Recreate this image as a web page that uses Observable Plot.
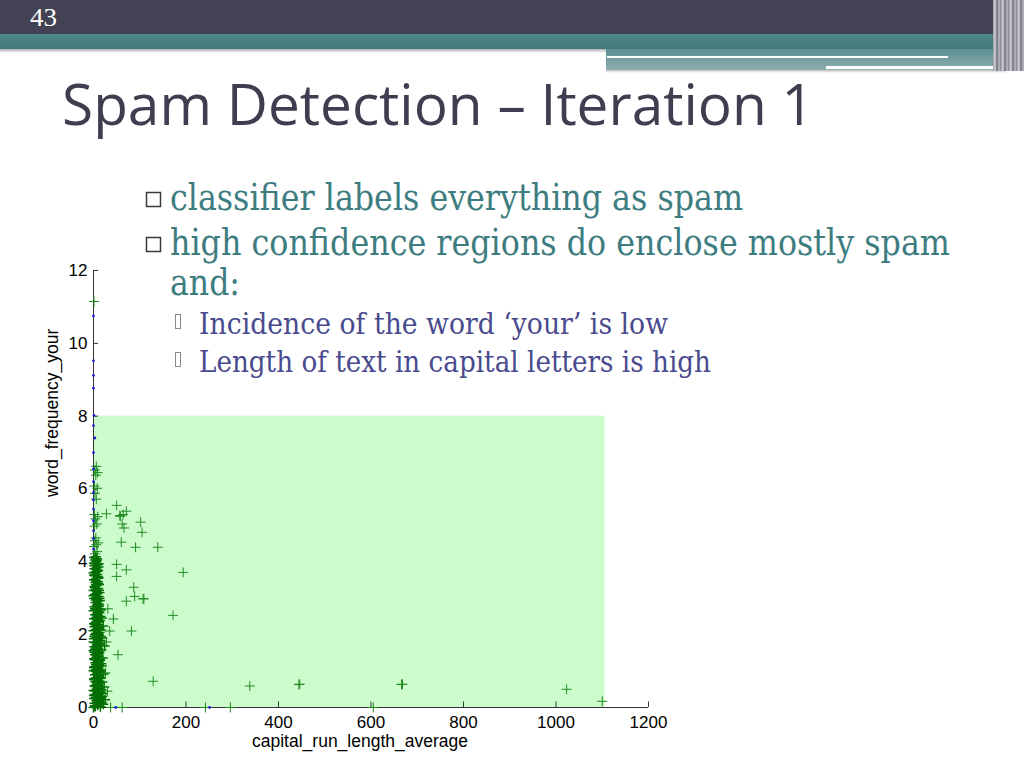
<!DOCTYPE html>
<html><head><meta charset="utf-8">
<script src="https://cdn.jsdelivr.net/npm/d3@7"></script>
<script src="https://cdn.jsdelivr.net/npm/@observablehq/plot@0.6"></script>
<style>
html,body{margin:0;padding:0;background:#fff;}
#slide{position:relative;width:1024px;height:768px;overflow:hidden;background:#fff;}
.abs{position:absolute;}
</style></head><body>
<div id="slide">
  <div class="abs" style="left:0;top:0;width:1024px;height:34px;background:#434254"></div>
  <div class="abs" style="left:0;top:34px;width:1024px;height:15px;background:linear-gradient(#4d8789,#44797b)"></div>
  <div class="abs" style="left:0;top:49px;width:606px;height:4px;background:linear-gradient(rgba(80,80,80,0.45),rgba(255,255,255,0))"></div>
  <div class="abs" style="left:606px;top:49px;width:394px;height:21px;background:linear-gradient(#5a8f91,#8eaeb0)"></div>
  <div class="abs" style="left:606px;top:70px;width:400px;height:3px;background:linear-gradient(rgba(80,80,80,0.35),rgba(255,255,255,0))"></div>
  <div class="abs" style="left:607px;top:56px;width:341px;height:2px;background:#fff"></div>
  <div class="abs" style="left:826px;top:66px;width:180px;height:3px;background:#fff"></div>
  <div class="abs" style="left:993px;top:0;width:31px;height:71px;background:repeating-linear-gradient(90deg,#9a9aa4 0px,#d4d4d8 2px,#6e6e7c 4px,#bcbcc4 6px,#85858f 8px)"></div>
  <div id="chart" class="abs" style="left:0;top:250px"></div>
  <svg class="abs" style="left:0;top:0;pointer-events:none" width="1024" height="768">
    <text x="30" y="26" font-family="'Liberation Serif', serif" font-size="26" fill="#ffffff" textLength="27" lengthAdjust="spacingAndGlyphs">43</text>
    <text x="62" y="125" font-family="'Open Sans', sans-serif" font-size="56" fill="#3f3e50" textLength="752" lengthAdjust="spacingAndGlyphs">Spam Detection – Iteration 1</text>
    <rect x="146.5" y="192.5" width="14" height="14" fill="none" stroke="#3a3a3a" stroke-width="1.5"></rect>
    <rect x="146.5" y="237.5" width="14" height="14" fill="none" stroke="#3a3a3a" stroke-width="1.5"></rect>
    <g font-family="'DejaVu Serif', serif" font-size="32" fill="#3e7d7f">
      <g transform="translate(170,210) scale(1,1.15)"><text x="0" y="0" textLength="573" lengthAdjust="spacingAndGlyphs">classifier labels everything as spam</text></g>
      <g transform="translate(170,255) scale(1,1.15)"><text x="0" y="0" textLength="780" lengthAdjust="spacingAndGlyphs">high confidence regions do enclose mostly spam</text></g>
      <g transform="translate(170,295) scale(1,1.15)"><text x="0" y="0" textLength="70" lengthAdjust="spacingAndGlyphs">and:</text></g>
    </g>
    <rect x="175.5" y="314.5" width="5" height="14" fill="none" stroke="#8a8a8a" stroke-width="1"></rect>
    <rect x="175.5" y="352.5" width="5" height="14" fill="none" stroke="#8a8a8a" stroke-width="1"></rect>
    <text x="199" y="334" font-family="'DejaVu Serif', serif" font-size="29" fill="#4a4a8e" textLength="469" lengthAdjust="spacingAndGlyphs">Incidence of the word ‘your’ is low</text>
    <text x="199" y="372" font-family="'DejaVu Serif', serif" font-size="29" fill="#4a4a8e" textLength="512" lengthAdjust="spacingAndGlyphs">Length of text in capital letters is high</text>
  </svg>
</div>
<script>
const xTicks = [0, 200, 400, 600, 800, 1000, 1200];
const yTicks = [0, 2, 4, 6, 8, 10, 12];
const xLabel = "capital_run_length_average";
const yLabel = "word_frequency_your";
const regionX = [0, 1106];
const regionY = [0, 8];

// spam (green +), dense cluster near x = 0
const spamCore = [
[0,0.00],[4,0.03],[9,0.06],[15,0.02],[21,0.09],[2,0.12],[7,0.15],[12,0.18],[18,0.14],[25,0.21],
[1,0.25],[5,0.28],[10,0.31],[16,0.27],[3,0.36],[8,0.39],[13,0.42],[20,0.38],[0,0.47],[6,0.5],
[11,0.53],[17,0.49],[23,0.56],[2,0.6],[7,0.63],[14,0.66],[4,0.71],[9,0.74],[19,0.7],[1,0.79],
[6,0.82],[12,0.85],[16,0.8],[3,0.9],[8,0.93],[13,0.96],[22,0.92],[0,1.01],[5,1.04],[10,1.07],
[15,1.03],[2,1.12],[7,1.15],[12,1.18],[18,1.14],[4,1.23],[9,1.26],[14,1.29],[1,1.34],[6,1.37],
[11,1.4],[20,1.36],[3,1.45],[8,1.48],[13,1.51],[0,1.56],[5,1.59],[10,1.62],[17,1.58],[2,1.67],
[7,1.7],[12,1.73],[24,1.69],[4,1.78],[9,1.81],[15,1.84],[1,1.89],[6,1.92],[11,1.95],[19,1.91],
[3,2.0],[8,2.03],[13,2.06],[0,2.11],[5,2.14],[10,2.17],[16,2.13],[2,2.22],[7,2.25],[12,2.28],
[21,2.24],[4,2.33],[9,2.36],[14,2.39],[1,2.44],[6,2.47],[11,2.5],[18,2.46],[3,2.55],[8,2.58],
[13,2.61],[0,2.66],[5,2.69],[10,2.72],[16,2.68],[2,2.77],[7,2.8],[12,2.83],[4,2.88],[9,2.91],
[14,2.94],[1,2.99],[6,3.02],[11,3.05],[3,3.1],[8,3.13],[13,3.16],[0,3.21],[5,3.24],[10,3.27],
[2,3.32],[7,3.35],[12,3.38],[4,3.43],[9,3.46],[1,3.51],[6,3.54],[11,3.57],[3,3.62],[8,3.65],
[0,3.7],[5,3.73],[10,3.76],[2,3.81],[7,3.84],[4,3.89],[9,3.92],[1,3.97],[6,4.0],[3,4.05],[8,4.08]
];
const spamCore2 = [
[3,0.05],[11,0.1],[6,0.2],[14,0.25],[1,0.33],[9,0.36],[17,0.4],[4,0.45],[12,0.58],[7,0.68],
[2,0.76],[10,0.88],[15,0.98],[5,0.99],[1,1.09],[9,1.2],[14,1.32],[3,1.31],[7,1.42],[11,1.54],
[2,1.52],[6,1.64],[14,1.76],[0,1.8],[9,1.98],[5,2.03],[13,2.19],[1,2.3],[7,2.41],[11,2.63],
[3,2.72],[9,2.85],[5,2.95],[13,3.0],[0,3.07],[7,3.19],[10,3.41],[3,3.29],[5,3.48],[9,3.6],
[1,3.64],[6,3.79],[11,3.86],[3,3.95],[7,4.04],[1,4.12],[5,4.14],[8,0.12],[4,0.58],[12,1.12],
[6,1.5],[10,1.86],[4,2.27],[8,2.52],[12,2.78],[6,3.12],[10,3.55],[4,3.7],[2,1.95],[15,2.5],
[7,0.35],[13,0.72],[5,1.18],[11,1.27],[8,1.72],[3,1.6],[12,2.0],[6,2.35],[10,2.42],[14,2.7],
[8,2.97],[12,3.22],[5,3.38],[9,3.75],[2,3.9],[11,3.95],[6,4.09],[17,1.2],[16,1.95],[19,0.3]
];
// spam stacks near the axis and fringe
const spamStacks = [
[3,4.22],[8,4.28],[1,4.42],[6,4.47],[10,4.52],[3,4.58],[5,4.66],[2,4.98],[7,5.04],[4,5.18],
[9,5.24],[2,5.3],[6,5.72],[3,5.88],[8,6.02],[2,6.08],[5,6.38],[9,6.45],[3,6.52],[6,6.62],
[1,11.15],[31,2.71],[43,2.43],[35,2.1],[28,1.8],[26,0.95],[30,0.45],[37,0],[62,0],[242,0],
[296,0],[605,0],[1100,0.17]
];
// spam outliers
const spamOutliers = [
[50,5.55],[28,5.32],[57,5.27],[71,5.39],[62,5.04],[66,4.93],[102,5.09],[105,4.81],[60,4.54],
[91,4.4],[139,4.4],[50,3.93],[71,3.78],[50,3.6],[194,3.71],[87,3.3],[89,3.05],[107,2.98],
[109,2.99],[71,2.92],[172,2.53],[82,2.1],[53,1.45],[129,0.72],[338,0.59],[444,0.63],[446,0.64],
[666,0.63],[668,0.64],[1023,0.5],[64,5.3],[58,5.25]
];
// non-spam (blue dots)
const nonSpam = [
[0,10.75],[0,9.52],[0,9.12],[0,8.77],[1,8.02],[0,7.74],[3,7.4],[0,7.0],[0,6.55],[0,6.2],
[0,5.9],[0,5.7],[0,5.45],[0,5.13],[0,4.85],[0,4.64],[0,4.35],[48,0],[251,0]
];

const chart = Plot.plot({
  width: 700, height: 520,
  marginLeft: 93, marginRight: 52, marginTop: 20, marginBottom: 63,
  x: {domain: [0, 1200], label: null},
  y: {domain: [0, 12], label: null},
  style: {fontFamily: "'Liberation Sans', Arial, sans-serif", fontSize: "17px", background: "transparent", overflow: "visible", color: "#000"},
  marks: [
    Plot.rect([{x1: regionX[0], x2: regionX[1], y1: regionY[0], y2: regionY[1]}], {x1: "x1", x2: "x2", y1: "y1", y2: "y2", fill: "#ccfccc"}),
    Plot.ruleX([0], {y1: 0, y2: 12, stroke: "#333"}),
    Plot.ruleY([0], {x1: 0, x2: 1200, stroke: "#333"}),
    Plot.ruleY(yTicks, {x1: 0, x2: 11, stroke: "#333"}),
    Plot.ruleX(xTicks, {y1: 0, y2: 0.15, stroke: "#333"}),
    Plot.axisX(xTicks, {tickSize: 0, tickPadding: 8, tickFormat: d => String(d), label: null, fontSize: 17}),
    Plot.axisY(yTicks, {tickSize: 0, tickPadding: 6, tickFormat: d => String(d), label: null, fontSize: 17}),
    Plot.dot(spamCore, {x: d => d[0], y: d => d[1], symbol: "plus", r: 3.3, stroke: "#056f05", fill: "none", strokeWidth: 1.5}),
    Plot.dot(spamCore2, {x: d => d[0], y: d => d[1], symbol: "plus", r: 3.3, stroke: "#056f05", fill: "none", strokeWidth: 1.5}),
    Plot.dot(spamStacks, {x: d => d[0], y: d => d[1], symbol: "plus", r: 3.3, stroke: "#1a861a", fill: "none", strokeWidth: 1}),
    Plot.dot(spamOutliers, {x: d => d[0], y: d => d[1], symbol: "plus", r: 3.3, stroke: "#238c23", fill: "none", strokeWidth: 1}),
    Plot.dot(nonSpam, {x: d => d[0], y: d => d[1], r: 1.4, fill: "#2020d8", stroke: "none"}),
    Plot.text([xLabel], {frameAnchor: "bottom", dx: -11, dy: 39, text: d => d, fontSize: 17.5, fill: "#000"}),
    Plot.text([yLabel], {frameAnchor: "left", dx: -41, dy: 8, rotate: -90, text: d => d, fontSize: 17.5, fill: "#000"})
  ]
});
document.getElementById("chart").appendChild(chart);
</script>
</body></html>
